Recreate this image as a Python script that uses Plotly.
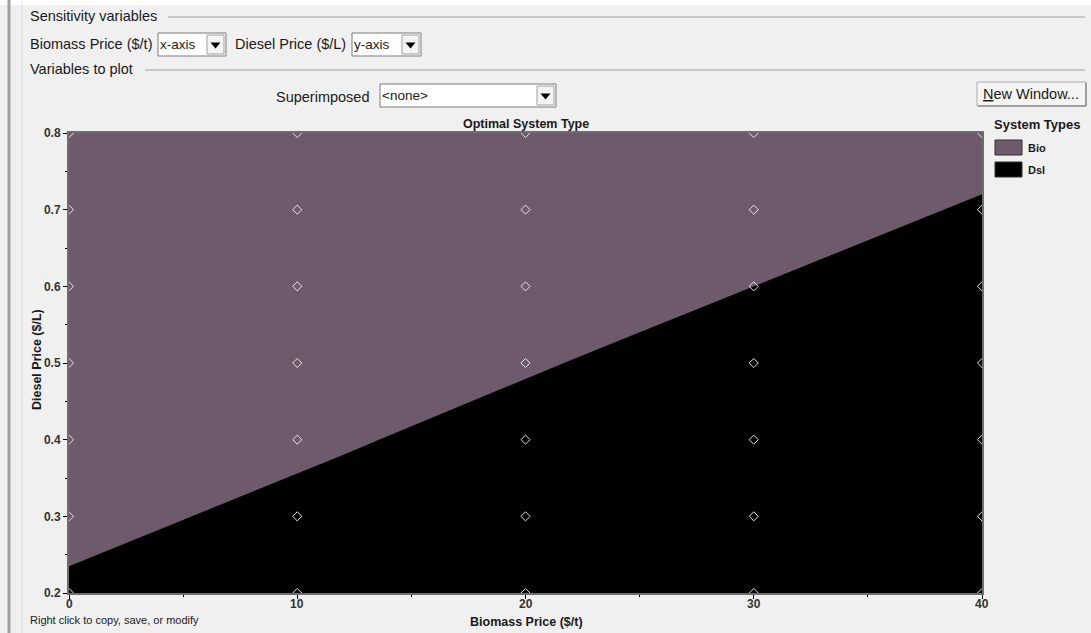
import plotly.graph_objects as go

# ---- data ----
biomass_boundary_x = [0, 2, 4, 6, 8, 10, 12, 14, 16, 18, 20, 22, 24, 26, 28, 30, 32, 34, 36, 38, 40]
diesel_boundary_y = [0.235, 0.259, 0.283, 0.307, 0.331, 0.355, 0.380, 0.405, 0.430, 0.455, 0.480,
                     0.504, 0.528, 0.552, 0.576, 0.600, 0.624, 0.648, 0.672, 0.696, 0.720]
sens_biomass = [0, 10, 20, 30, 40]
sens_diesel = [0.2, 0.3, 0.4, 0.5, 0.6, 0.7, 0.8]
system_types = ["Bio", "Dsl"]
system_colors = ["#6f596d", "#000000"]
x_ticks = [0, 10, 20, 30, 40]
x_tick_labels = ["0", "10", "20", "30", "40"]
y_ticks = [0.2, 0.3, 0.4, 0.5, 0.6, 0.7, 0.8]

W, H = 1091, 633
L, R, T, B = 69, 982, 133, 593
BG = "#f0f0f0"
UI_FONT = "Liberation Sans"


def px(x):
    return (x - L) / (R - L)


def py(y):
    return (B - y) / (B - T)


fig = go.Figure()

# Dsl region (below the boundary); Bio is the plot background
fig.add_trace(go.Scatter(x=biomass_boundary_x, y=diesel_boundary_y, mode="lines",
                         line=dict(width=0, color=system_colors[1]), fill="tozeroy",
                         fillcolor=system_colors[1], hoverinfo="skip", showlegend=False))

# sensitivity case markers
gx, gy = [], []
for xv in sens_biomass:
    for yv in sens_diesel:
        gx.append(xv)
        gy.append(yv)
fig.add_trace(go.Scatter(x=gx, y=gy, mode="markers",
                         marker=dict(symbol="diamond-open", size=7, color="#e6e6e6",
                                     line=dict(width=1, color="#e6e6e6")),
                         cliponaxis=True, showlegend=False, hoverinfo="skip"))

shapes = []
ann = []


def rect(x0, y0, x1, y1, fill, line="#a0a0a0", lw=1):
    shapes.append(dict(type="rect", xref="paper", yref="paper", x0=px(x0), x1=px(x1),
                       y0=py(y1), y1=py(y0), fillcolor=fill, line=dict(color=line, width=lw),
                       layer="above"))


def hline(x0, x1, y, color="#a0a0a0", lw=1):
    shapes.append(dict(type="line", xref="paper", yref="paper", x0=px(x0), x1=px(x1),
                       y0=py(y), y1=py(y), line=dict(color=color, width=lw), layer="above"))


def vline(x, y0, y1, color="#a0a0a0", lw=1):
    shapes.append(dict(type="line", xref="paper", yref="paper", x0=px(x), x1=px(x),
                       y0=py(y0), y1=py(y1), line=dict(color=color, width=lw), layer="above"))


def text(x, y, s, size=14.5, anchor="left", bold=False, color="#1a1a1a", angle=0, vanchor="middle"):
    ann.append(dict(xref="paper", yref="paper", x=px(x), y=py(y), text=s, showarrow=False,
                    xanchor=anchor, yanchor=vanchor, textangle=angle, borderpad=0,
                    font=dict(family=UI_FONT, size=size, color=color,
                              weight="bold" if bold else "normal")))


def dropdown(x0, y0, x1, y1, label):
    rect(x0, y0, x1, y1, "#ffffff", "#7a7a7a", 1)
    rect(x1 - 19, y0 + 2, x1 - 2, y1 - 2, "#f4f4f4", "#a0a0a0", 1)
    cx, cy = x1 - 10.5, (y0 + y1) / 2 + 1
    path = "M {} {} L {} {} L {} {} Z".format(px(cx - 5), py(cy - 3), px(cx + 5), py(cy - 3),
                                             px(cx), py(cy + 3))
    shapes.append(dict(type="path", xref="paper", yref="paper", path=path,
                       fillcolor="#000000", line=dict(color="#000000", width=0), layer="above"))
    text(x0 + 1, (y0 + y1) / 2, label, size=13.5)


# window frame
rect(0, 0, W, 5, "#ffffff", "#ffffff", 0)
vline(9, 0, H, "#a0a0a0", 3)
vline(22, 0, H, "#dcdcdc", 1)

# header UI
text(29, 16, "Sensitivity variables")
hline(168, 1085, 17)
text(29, 44, "Biomass Price ($/t)")
dropdown(158, 33, 226, 56, "x-axis")
text(234, 44, "Diesel Price ($/L)")
dropdown(352, 33, 421, 56, "y-axis")
text(29, 69, "Variables to plot")
hline(145, 1085, 70)
text(275, 97, "Superimposed")
dropdown(380, 84, 556, 107, "&lt;none&gt;")

# New Window button
rect(977, 82, 1086, 106, "#f4f4f4", "#adadad", 1)
hline(978, 1086, 106, "#707070", 1)
vline(1086, 83, 106, "#707070", 1)
text(1031, 94, "<u>N</u>ew Window...", size=14.5, anchor="center")

# chart texts
text(526, 124, "Optimal System Type", size=12.5, anchor="center", bold=True)
text(37, 360, "Diesel Price ($/L)", size=12.5, anchor="center", bold=True, angle=-90)
text(526, 622, "Biomass Price ($/t)", size=12.5, anchor="center", bold=True)
text(29, 620, "Right click to copy, save, or modify", size=11)

# x tick labels placed through the x axis scale
for tv, tl in zip(x_ticks, x_tick_labels):
    ann.append(dict(xref="x", yref="paper", x=tv, y=py(603.5), text=tl, showarrow=False,
                    xanchor="center", yanchor="middle", borderpad=0,
                    font=dict(family=UI_FONT, size=12, color="#333333", weight="bold")))

# legend
text(993, 124, "System Types", size=13, bold=True)
for i, (name, col) in enumerate(zip(system_types, system_colors)):
    y0 = 140 + 22 * i
    rect(995, y0, 1022, y0 + 15, col, "#303030", 1)
    text(1027, y0 + 7.5, name, size=11, bold=True)

fig.update_layout(
    width=W, height=H, margin=dict(l=L, r=W - R, t=T, b=H - B),
    paper_bgcolor=BG, plot_bgcolor=system_colors[0],
    shapes=shapes, annotations=ann, showlegend=False,
    xaxis=dict(range=[0, 40], tickvals=x_ticks, ticks="outside", ticklen=4, tickcolor="#000000",
               showticklabels=False,
               showgrid=False, zeroline=False, showline=True, linecolor="#6e6e6e", linewidth=2,
               mirror=True,
               minor=dict(dtick=5, ticks="outside", ticklen=2, tickcolor="#000000"), fixedrange=True),
    yaxis=dict(range=[0.2, 0.8], tickvals=y_ticks, ticks="outside", ticklen=4, tickcolor="#000000",
               showgrid=False, zeroline=False, showline=True, linecolor="#6e6e6e", linewidth=2,
               mirror=True, tickformat=".1f",
               tickfont=dict(family=UI_FONT, size=12, color="#333333", weight="bold"),
               minor=dict(dtick=0.05, ticks="outside", ticklen=2, tickcolor="#000000"), fixedrange=True),
)

fig.write_html("out.html", config={"displayModeBar": False},
               post_script="document.body.style.margin='0';document.body.style.overflow='hidden';")
